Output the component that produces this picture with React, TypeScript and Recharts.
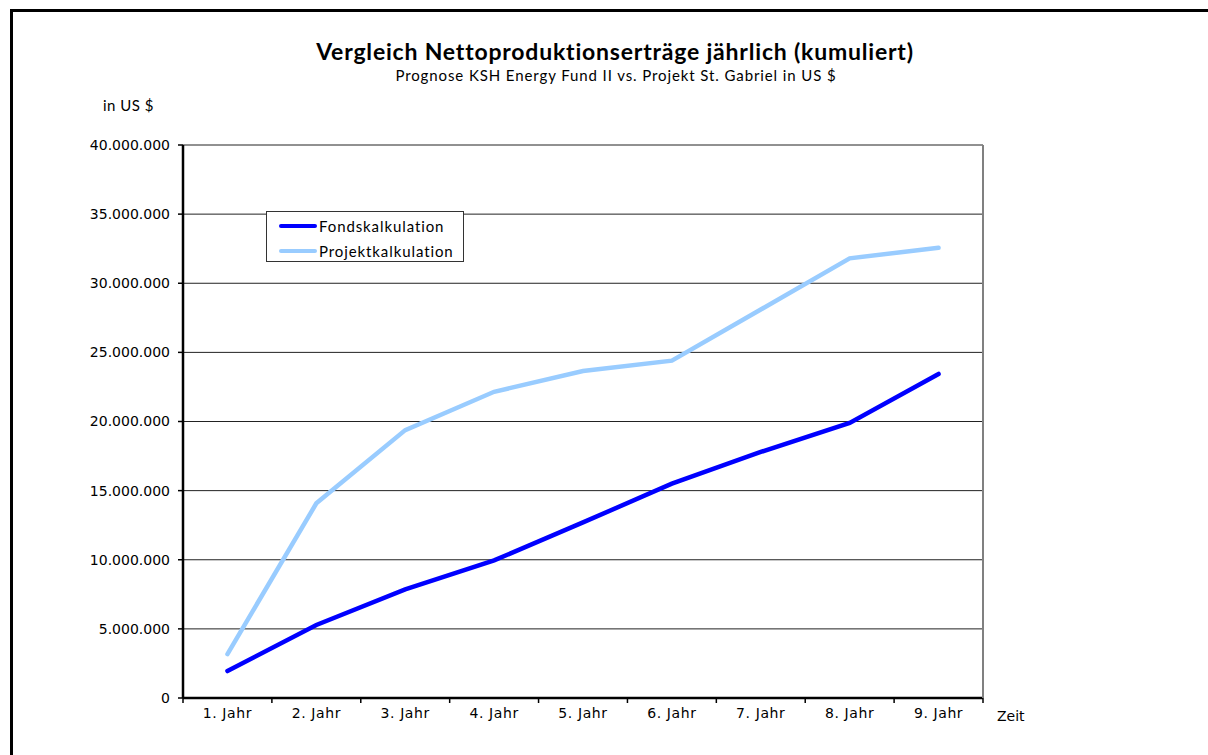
import { LineChart, Line, XAxis, YAxis, CartesianGrid, Legend } from "recharts";

// Kumulierte Nettoproduktionserträge in US $
const YEARS = ["1. Jahr", "2. Jahr", "3. Jahr", "4. Jahr", "5. Jahr", "6. Jahr", "7. Jahr", "8. Jahr", "9. Jahr"];
const FONDS = [1950000, 5280000, 7860000, 9950000, 12700000, 15500000, 17800000, 19900000, 23440000];
const PROJEKT = [3180000, 14080000, 19380000, 22150000, 23650000, 24400000, 28100000, 31800000, 32570000];
const Y_TICKS = [0, 5000000, 10000000, 15000000, 20000000, 25000000, 30000000, 35000000, 40000000];

const data = YEARS.map((year, i) => ({
  year,
  Fondskalkulation: FONDS[i],
  Projektkalkulation: PROJEKT[i],
}));

const W = 1208;
const H = 755;
const PLOT_LEFT = 183;
const PLOT_RIGHT = 983;
const PLOT_TOP = 145;
const PLOT_BOTTOM = 698;
const BAND = (PLOT_RIGHT - PLOT_LEFT) / YEARS.length;
const Y_AXIS_W = 110;
const X_AXIS_H = 40;

const FONT = "Lato, 'Open Sans', sans-serif";
const TICK_FONT = "'DejaVu Sans', sans-serif";

const fmt = (v: number) => v.toLocaleString("de-DE");

// Excel-style category tick: label in band center, tick mark on band border
function XTick(props: any) {
  const { x, y, payload, index } = props;
  const left = x - BAND / 2;
  return (
    <g>
      <line x1={left} x2={left} y1={PLOT_BOTTOM} y2={PLOT_BOTTOM + 5} stroke="#000" strokeWidth={1.5} />
      {index === YEARS.length - 1 && (
        <line x1={x + BAND / 2} x2={x + BAND / 2} y1={PLOT_BOTTOM} y2={PLOT_BOTTOM + 5} stroke="#000" strokeWidth={1.5} />
      )}
      <text
        x={x}
        y={y + 12}
        textAnchor="middle"
        fontSize={14}
        letterSpacing={0.6}
        fontFamily={TICK_FONT}
        fill="#000"
      >
        {payload.value}
      </text>
    </g>
  );
}

function LegendBox() {
  const items = [
    { name: "Fondskalkulation", color: "#0000FF" },
    { name: "Projektkalkulation", color: "#99CCFF" },
  ];
  return (
    <div
      style={{
        width: 198,
        height: 51,
        border: "1px solid #333",
        background: "#fff",
        boxSizing: "border-box",
        padding: "3px 0 0 12px",
      }}
    >
      {items.map((it) => (
        <div key={it.name} style={{ display: "flex", alignItems: "center", height: 21, marginBottom: 4 }}>
          <div style={{ width: 38, height: 4, borderRadius: 2, background: it.color, marginRight: 2 }} />
          <span style={{ fontFamily: FONT, fontSize: 15, letterSpacing: 0.9, color: "#000" }}>{it.name}</span>
        </div>
      ))}
    </div>
  );
}

export default function App() {
  return (
    <div style={{ position: "absolute", left: 0, top: 0, width: W, height: H, background: "#fff", overflow: "hidden" }}>
      {/* frame */}
      <div
        style={{
          position: "absolute",
          left: 10,
          top: 9,
          width: W,
          height: H,
          borderTop: "3px solid #000",
          borderLeft: "3px solid #000",
        }}
      />
      <div
        style={{
          position: "absolute",
          left: 0,
          width: 1230,
          top: 37,
          textAlign: "center",
          fontFamily: FONT,
          fontWeight: 700,
          fontSize: 23,
          letterSpacing: 0.8,
          color: "#000",
        }}
      >
        Vergleich Nettoproduktionserträge jährlich (kumuliert)
      </div>
      <div
        style={{
          position: "absolute",
          left: 0,
          width: 1232,
          top: 66,
          textAlign: "center",
          fontFamily: FONT,
          fontSize: 15,
          letterSpacing: 0.9,
          color: "#000",
        }}
      >
        Prognose KSH Energy Fund II vs. Projekt St. Gabriel in US $
      </div>
      <div
        style={{ position: "absolute", left: 103, top: 96, fontFamily: FONT, fontSize: 15, letterSpacing: 0.5, color: "#000" }}
      >
        in US $
      </div>
      <div style={{ position: "absolute", left: 997, top: 708, fontFamily: TICK_FONT, fontSize: 14, color: "#000" }}>
        Zeit
      </div>

      <div style={{ position: "absolute", left: 0, top: 0 }}>
        <LineChart
          width={W}
          height={H}
          data={data}
          margin={{
            top: PLOT_TOP,
            right: W - PLOT_RIGHT - 1,
            bottom: H - PLOT_BOTTOM - X_AXIS_H,
            left: PLOT_LEFT - Y_AXIS_W,
          }}
        >
          <CartesianGrid yAxisId="left" horizontal vertical={false} stroke="#222" strokeWidth={1} />
          <XAxis
            dataKey="year"
            height={X_AXIS_H}
            padding={{ left: BAND / 2, right: BAND / 2 }}
            axisLine={{ stroke: "#000", strokeWidth: 2.5 }}
            tickLine={false}
            tick={<XTick />}
            interval={0}
          />
          <YAxis
            yAxisId="left"
            width={Y_AXIS_W}
            domain={[0, 40000000]}
            ticks={Y_TICKS}
            tickFormatter={fmt}
            axisLine={{ stroke: "#000", strokeWidth: 2.5 }}
            tickLine={{ stroke: "#000", strokeWidth: 1.5 }}
            tickSize={5}
            tickMargin={8}
            tick={{ fill: "#000", fontSize: 14, fontFamily: TICK_FONT }}
          />
          <YAxis
            yAxisId="right"
            orientation="right"
            width={1}
            domain={[0, 40000000]}
            tick={false}
            tickLine={false}
            axisLine={{ stroke: "#808080", strokeWidth: 2 }}
          />
          <Legend
            layout="horizontal"
            verticalAlign="middle"
            align="center"
            content={<LegendBox />}
            wrapperStyle={{ position: "absolute", left: 266, top: 211, width: 198 }}
          />
          <Line
            yAxisId="left"
            type="linear"
            dataKey="Fondskalkulation"
            stroke="#0000FF"
            strokeWidth={4.5}
            strokeLinecap="round"
            dot={false}
            isAnimationActive={false}
          />
          <Line
            yAxisId="left"
            type="linear"
            dataKey="Projektkalkulation"
            stroke="#99CCFF"
            strokeWidth={4.5}
            strokeLinecap="round"
            dot={false}
            isAnimationActive={false}
          />
        </LineChart>
      </div>
    </div>
  );
}
